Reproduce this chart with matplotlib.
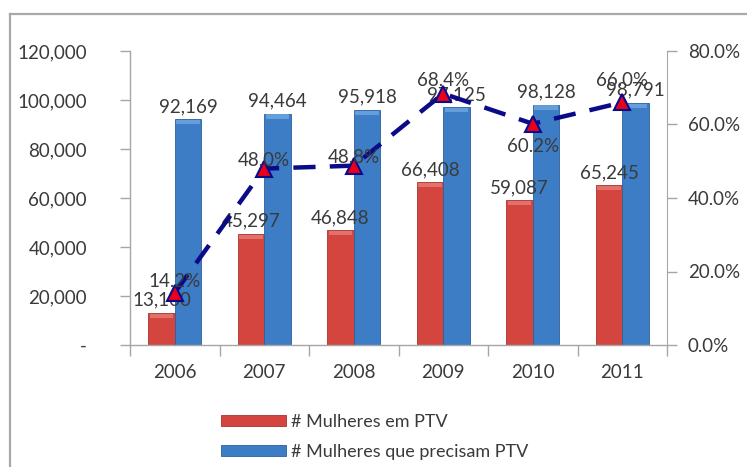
import matplotlib
matplotlib.use("Agg")
import matplotlib.pyplot as plt
from matplotlib.patches import Rectangle
from matplotlib.lines import Line2D
from matplotlib.ticker import FuncFormatter, FixedLocator
import numpy as np

plt.rcParams['font.family'] = ['Lato', 'DejaVu Sans']

years = ["2006", "2007", "2008", "2009", "2010", "2011"]
mulheres_em_ptv = [13100, 45297, 46848, 66408, 59087, 65245]
mulheres_precisam_ptv = [92169, 94464, 95918, 97125, 98128, 98791]
pct_cobertura = [0.142, 0.480, 0.488, 0.684, 0.602, 0.660]
# label offsets (points) for the percent labels: positive = above, negative = below
pct_label_dy = [2, 0, 0, 3, -10, 10]

series_names = ["# Mulheres em PTV", "# Mulheres que precisam PTV"]

RED = "#D4453F"
RED_EDGE = "#A83430"
BLUE = "#3D7DC6"
BLUE_EDGE = "#2C5F9A"
NAVY = "#0B0B8A"
TXT = "#3A3A3A"
AXC = "#A6A6A6"

W, H = 747, 467
fig = plt.figure(figsize=(W / 100, H / 100), dpi=100)
fig.patch.set_facecolor("white")

# outer frame (cropped at right/bottom)
fig.add_artist(Line2D([10 / W, 10 / W], [0, 1 - 14 / H], transform=fig.transFigure,
                      color="#A8A8A8", lw=1.6))
fig.add_artist(Line2D([10 / W, 1], [1 - 14 / H, 1 - 14 / H], transform=fig.transFigure,
                      color="#A8A8A8", lw=1.6))

left, right = 130 / W, 667 / W
bottom, top = 1 - 345 / H, 1 - 51 / H
ax = fig.add_axes([left, bottom, right - left, top - bottom])
ax2 = ax.twinx()

x = np.arange(len(years))
bw = 0.296
b1 = ax.bar(x - bw / 2, mulheres_em_ptv, bw, color=RED, edgecolor=RED_EDGE, lw=0.6,
            label=series_names[0], zorder=2)
b2 = ax.bar(x + bw / 2, mulheres_precisam_ptv, bw, color=BLUE, edgecolor=BLUE_EDGE, lw=0.6,
            label=series_names[1], zorder=2)

# subtle highlight at the top of bars (3D-ish look)
for cont, hl in ((b1, "#F29490"), (b2, "#86BBEE")):
    for r in cont:
        hh = 1800
        ax.add_patch(Rectangle((r.get_x() + r.get_width() * 0.06, r.get_height() - hh - 300),
                               r.get_width() * 0.88, hh, color=hl, lw=0, alpha=0.55, zorder=3))

ax.set_xlim(-0.5, len(years) - 0.5)
ax.set_ylim(0, 120000)
ax.set_yticks(np.arange(0, 120001, 20000))
ax.yaxis.set_major_formatter(FuncFormatter(lambda v, p: "-" if v == 0 else f"{int(v):,}"))
ax.set_xticks(x)
ax.set_xticklabels(years)
ax.xaxis.set_minor_locator(FixedLocator(np.arange(-0.5, len(years), 1.0)))
ax.tick_params(axis="x", which="major", length=0, pad=14, labelsize=13.5, labelcolor=TXT)
ax.tick_params(axis="x", which="minor", length=8, color=AXC, width=1)
ax.tick_params(axis="y", length=7, color=AXC, width=1, labelsize=13.5, labelcolor=TXT, pad=24)

for s in ["top", "right"]:
    ax.spines[s].set_visible(False)
for s in ["left", "bottom"]:
    ax.spines[s].set_color(AXC)
    ax.spines[s].set_linewidth(1)
for s in ["top", "left", "bottom"]:
    ax2.spines[s].set_visible(False)
ax2.spines["right"].set_color(AXC)

ax2.set_ylim(0, 0.8)
ax2.set_yticks(np.arange(0, 0.81, 0.2))
ax2.yaxis.set_major_formatter(FuncFormatter(lambda v, p: f"{v * 100:.1f}%"))
ax2.tick_params(axis="y", length=7, color=AXC, width=1, labelsize=13.5, labelcolor=TXT, pad=8)

ax2.plot(x, pct_cobertura, color=NAVY, lw=3.2, dashes=(5, 3.2), zorder=4,
         marker="^", markersize=12, markerfacecolor="#E8001C", markeredgecolor=NAVY,
         markeredgewidth=1.5)

# bar labels
for cont, vals in ((b1, mulheres_em_ptv), (b2, mulheres_precisam_ptv)):
    for r, v in zip(cont, vals):
        ax.annotate(f"{v:,}", (r.get_x() + r.get_width() / 2, r.get_height()),
                    xytext=(0, 3), textcoords="offset points", ha="center", va="bottom",
                    fontsize=13.5, color=TXT, zorder=5)

for xi, v, dy in zip(x, pct_cobertura, pct_label_dy):
    ax2.annotate(f"{v * 100:.1f}%", (xi, v), xytext=(0, dy), textcoords="offset points",
                 ha="center", va="bottom" if dy >= 0 else "top",
                 fontsize=13.5, color=TXT, zorder=6)

ax.set_zorder(1)
ax2.set_zorder(2)
ax.patch.set_visible(False)
ax2.patch.set_visible(False)

leg = fig.legend(handles=[b1, b2], labels=series_names, loc="upper left",
                 bbox_to_anchor=(212 / W, 1 - 405 / H), frameon=False,
                 fontsize=13, handlelength=3.6, handleheight=0.55, handletextpad=0.3,
                 labelspacing=0.75, borderpad=0, labelcolor=TXT)

fig.savefig("out.png", dpi=100, facecolor="white")
